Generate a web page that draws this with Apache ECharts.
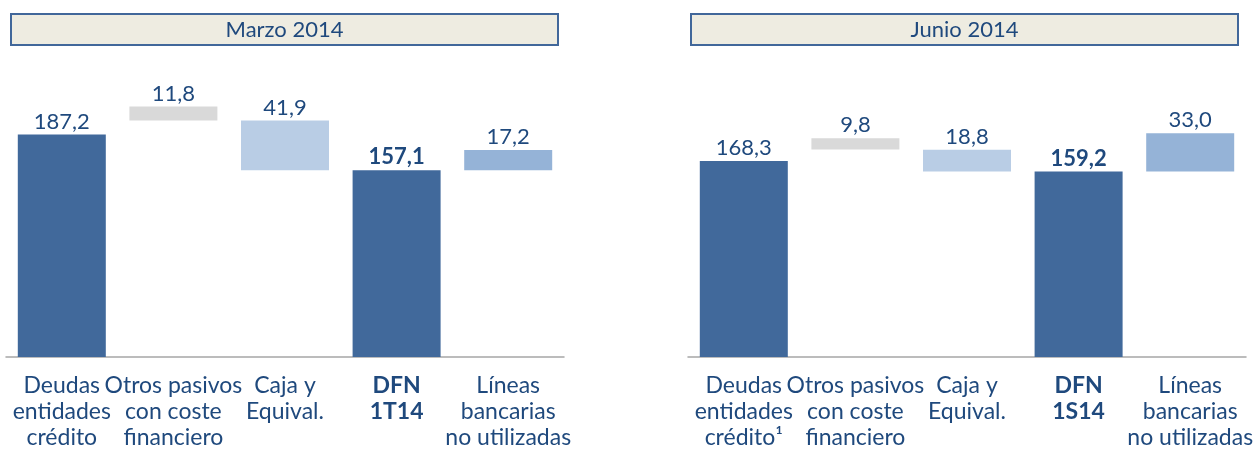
<!DOCTYPE html>
<html lang="es">
<head>
<meta charset="UTF-8">
<title>DFN</title>
<script src="https://cdn.jsdelivr.net/npm/echarts@6/dist/echarts.min.js"></script>
<style>
  html, body { margin: 0; padding: 0; background: #fff; }
  #main { width: 1258px; height: 451px; }
</style>
</head>
<body>
<div id="main"></div>
<script>
// datos
var titles = ['Marzo 2014', 'Junio 2014'];
var catsMarzo = ['Deudas\nentidades\ncrédito', 'Otros pasivos\ncon coste\nfinanciero', 'Caja y\nEquival.', 'DFN\n1T14', 'Líneas\nbancarias\nno utilizadas'];
var catsJunio = ['Deudas\nentidades\ncrédito¹', 'Otros pasivos\ncon coste\nfinanciero', 'Caja y\nEquival.', 'DFN\n1S14', 'Líneas\nbancarias\nno utilizadas'];
var valMarzo = [187.2, 11.8, 41.9, 157.1, 17.2];
var valJunio = [168.3, 9.8, 18.8, 159.2, 33.0];
var colores = ['#41699B', '#D9D9D9', '#B9CDE5', '#41699B', '#95B3D7'];

var azul = '#1F497D';
var fuente = 'Lato';

// base invisible de cada barra (cascada)
function bases(v) {
    return [0, v[0] + v[1], v[3], 0, v[3]];
}
function fmt(n) {
    return n.toFixed(1).replace('.', ',');
}

function series(vals, idx) {
    var b = bases(vals);
    return [{
        type: 'bar',
        xAxisIndex: idx, yAxisIndex: idx,
        stack: 's' + idx,
        barWidth: 88,
        silent: true,
        itemStyle: { color: 'transparent' },
        data: b
    }, {
        type: 'bar',
        xAxisIndex: idx, yAxisIndex: idx,
        stack: 's' + idx,
        barWidth: 88,
        data: vals.map(function (v, i) {
            return {
                value: v,
                itemStyle: { color: colores[i] },
                label: { fontWeight: i == 3 ? 'bold' : 'normal' }
            };
        }),
        label: {
            show: true,
            position: 'top',
            distance: 2,
            color: azul,
            fontFamily: fuente,
            fontSize: 22,
            formatter: function (p) { return fmt(p.value); }
        }
    }];
}

function xAxis(cats, idx) {
    return {
        type: 'category',
        gridIndex: idx,
        data: cats,
        axisTick: { show: false },
        axisLine: { lineStyle: { color: '#A6A6A6', width: 1.5 } },
        axisLabel: {
            interval: 0,
            margin: 16,
            color: azul,
            fontFamily: fuente,
            fontSize: 23,
            lineHeight: 26,
            formatter: function (v, i) {
                if (i == 3) {
                    return v.split('\n').map(function (s) { return '{b|' + s + '}'; }).join('\n');
                }
                return v;
            },
            rich: {
                b: { fontWeight: 'bold', color: azul, fontFamily: fuente, fontSize: 23, lineHeight: 26 }
            }
        }
    };
}

function yAxis(max, idx) {
    return {
        type: 'value', gridIndex: idx, min: 0, max: max, show: false,
        splitLine: { show: false }
    };
}

function caja(x, w, texto) {
    return {
        type: 'group',
        left: x, top: 13,
        children: [{
            type: 'rect',
            shape: { x: 0, y: 0, width: w, height: 31 },
            style: { fill: '#EEECE1', stroke: '#41679A', lineWidth: 2 }
        }, {
            type: 'text',
            x: w / 2, y: 16,
            style: {
                text: texto, fill: azul, font: '22px ' + fuente,
                align: 'center', verticalAlign: 'middle'
            }
        }]
    };
}

var myChart = echarts.init(document.getElementById('main'));
var option = {
    animation: false,
    grid: [
        { left: 6, width: 558, top: 60, bottom: 91 },
        { left: 688, width: 558, top: 60, bottom: 91 }
    ],
    xAxis: [xAxis(catsMarzo, 0), xAxis(catsJunio, 1)],
    yAxis: [yAxis(250, 0), yAxis(255, 1)],
    series: series(valMarzo, 0).concat(series(valJunio, 1)),
    graphic: [caja(10, 547, titles[0]), caja(690, 547, titles[1])]
};
myChart.setOption(option);
</script>
</body>
</html>
